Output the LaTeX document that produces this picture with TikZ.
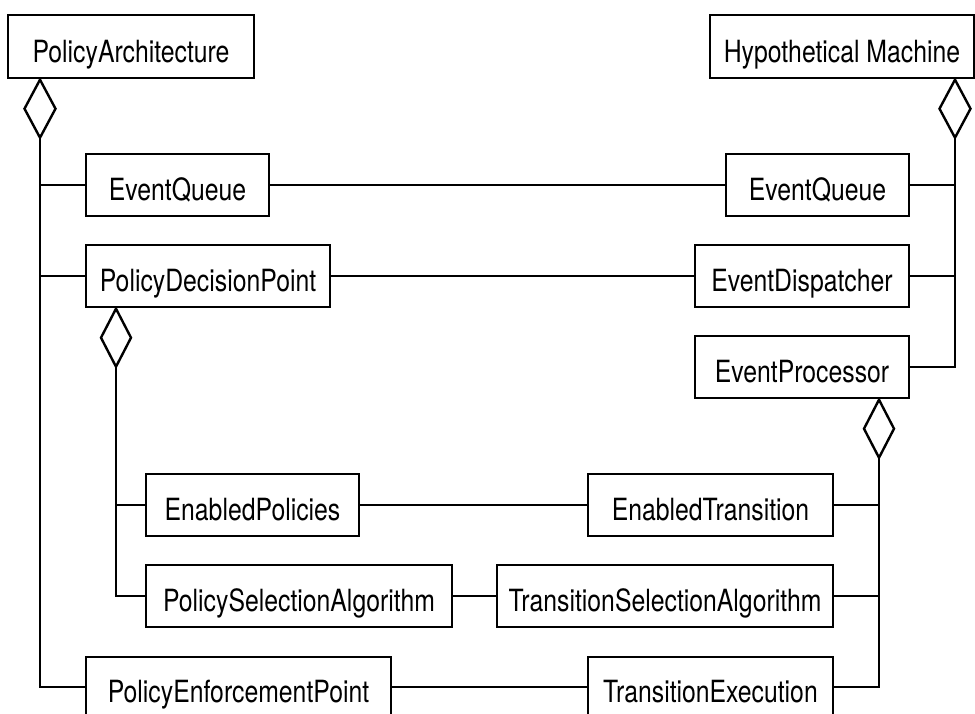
\documentclass[tikz,border=0pt]{standalone}
\usepackage{fontspec}
\setmainfont{TeX Gyre Heros}[FakeStretch=0.81]
\usetikzlibrary{shapes.geometric}
\begin{document}
\begin{tikzpicture}[x=1pt,y=-1pt,
  box/.style={draw,line width=2.6pt,rectangle,inner sep=0pt,minimum height=62pt,
    text height=31pt,text depth=0pt,
    font=\fontsize{30.6}{36}\selectfont},
  agg/.style={draw,line width=2.4pt,diamond,inner sep=0pt,minimum width=32pt,minimum height=59pt},
  conn/.style={line width=2.3pt}]
\clip (0,0) rectangle (975,713);
% boxes
\node[box,minimum width=246pt,minimum height=63pt] (pa) at (131,46.5) {PolicyArchitecture};
\node[box,minimum width=264pt,minimum height=63pt] (hm) at (842,46.5) {Hypothetical Machine};
\node[box,minimum width=183pt] (eqL) at (177.5,185) {EventQueue};
\node[box,minimum width=183pt] (eqR) at (817.5,185) {EventQueue};
\node[box,minimum width=244pt] (pdp) at (208,276) {PolicyDecisionPoint};
\node[box,minimum width=214pt] (ed) at (802,276) {EventDispatcher};
\node[box,minimum width=214pt] (evp) at (802,367) {EventProcessor};
\node[box,minimum width=213pt] (enp) at (252.5,505) {EnabledPolicies};
\node[box,minimum width=245pt] (et) at (710.5,505) {EnabledTransition};
\node[box,minimum width=306pt] (psa) at (299,596) {PolicySelectionAlgorithm};
\node[box,minimum width=336pt] (tsa) at (665,596) {TransitionSelectionAlgorithm};
\node[box,minimum width=305pt,minimum height=60pt] (pep) at (238.5,687) {PolicyEnforcementPoint};
\node[box,minimum width=245pt,minimum height=60pt] (te) at (710.5,687) {TransitionExecution};
% aggregation diamonds
\node[agg,anchor=north] (dpa) at (40,78) {};
\node[agg,anchor=north] (dhm) at (955,78) {};
\node[agg,anchor=north,minimum width=31pt] (dpdp) at (116,307) {};
\node[agg,anchor=north,minimum width=31pt] (dep) at (879,398) {};
% aggregation trees
\draw[conn] (dpa.south) |- (pep.west);
\draw[conn] (dpa.south |- eqL.west) -- (eqL.west);
\draw[conn] (dpa.south |- pdp.west) -- (pdp.west);
\draw[conn] (dhm.south) |- (evp.east);
\draw[conn] (dhm.south |- eqR.east) -- (eqR.east);
\draw[conn] (dhm.south |- ed.east) -- (ed.east);
\draw[conn] (dpdp.south) |- (psa.west);
\draw[conn] (dpdp.south |- enp.west) -- (enp.west);
\draw[conn] (dep.south) |- (te.east);
\draw[conn] (dep.south |- et.east) -- (et.east);
\draw[conn] (dep.south |- tsa.east) -- (tsa.east);
% correspondences
\draw[conn] (eqL.east) -- (eqR.west);
\draw[conn] (pdp.east) -- (ed.west);
\draw[conn] (enp.east) -- (et.west);
\draw[conn] (psa.east) -- (tsa.west);
\draw[conn] (pep.east) -- (te.west);
\end{tikzpicture}
\end{document}
